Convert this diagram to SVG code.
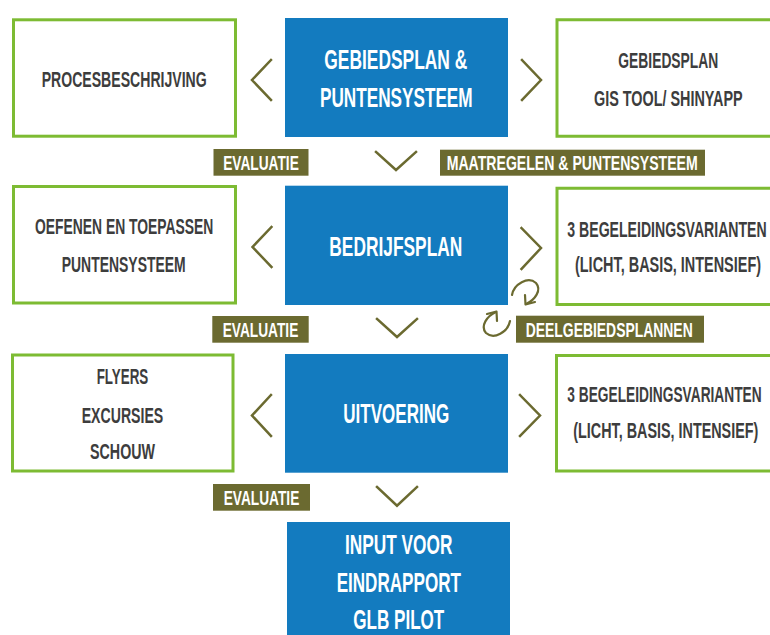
<svg xmlns="http://www.w3.org/2000/svg" width="770" height="635" viewBox="0 0 770 635">
<style>
.box{fill:#ffffff;stroke:#7dbb33;stroke-width:3}
.blue{fill:#137bbf}
.lab{fill:#6b6a30}
.chev{fill:none;stroke:#6b6a30;stroke-width:2.5;stroke-linecap:square}
.curl{fill:none;stroke:#6b6a30;stroke-width:2.2;stroke-linecap:round;stroke-linejoin:round}
text{font-family:"Liberation Sans Narrow","Liberation Sans",Arial,sans-serif;font-weight:bold;text-anchor:middle}
.g{fill:#3d3d3d;font-size:22px}
.w{fill:#ffffff;font-size:28px}
.l{fill:#ffffff;font-size:21px}
</style>
<rect width="770" height="635" fill="#ffffff"/>
<g id="procesbeschrijving"><rect class="box" x="13.5" y="19.8" width="222" height="116.4"/><text class="g" x="124.2" y="87.3" textLength="165" lengthAdjust="spacingAndGlyphs">PROCESBESCHRIJVING</text></g>
<g id="gebiedsplan-puntensysteem"><rect class="blue" x="285" y="18" width="223" height="119"/><text class="w" x="395.8" y="69" textLength="143" lengthAdjust="spacingAndGlyphs">GEBIEDSPLAN &amp;</text><text class="w" x="396.3" y="106.7" textLength="152.7" lengthAdjust="spacingAndGlyphs">PUNTENSYSTEEM</text></g>
<g id="gis-tool"><path class="box" d="M770,19.8 H557 V136.2 H770"/><text class="g" x="668.3" y="67.7" textLength="100" lengthAdjust="spacingAndGlyphs">GEBIEDSPLAN</text><text class="g" x="668.3" y="106" textLength="148.7" lengthAdjust="spacingAndGlyphs">GIS TOOL/ SHINYAPP</text></g>
<g id="oefenen"><rect class="box" x="13.5" y="186.5" width="222" height="116.5"/><text class="g" x="124.2" y="234.3" textLength="178.3" lengthAdjust="spacingAndGlyphs">OEFENEN EN TOEPASSEN</text><text class="g" x="123.7" y="271.7" textLength="124" lengthAdjust="spacingAndGlyphs">PUNTENSYSTEEM</text></g>
<g id="bedrijfsplan"><rect class="blue" x="285" y="185.7" width="223" height="119.3"/><text class="w" x="395.8" y="256" textLength="133" lengthAdjust="spacingAndGlyphs">BEDRIJFSPLAN</text></g>
<g id="begeleiding-1"><path class="box" d="M770,188.2 H557 V304.5 H770"/><text class="g" x="667" y="236.7" textLength="199.4" lengthAdjust="spacingAndGlyphs">3 BEGELEIDINGSVARIANTEN</text><text class="g" x="668" y="271.7" textLength="186" lengthAdjust="spacingAndGlyphs">(LICHT, BASIS, INTENSIEF)</text></g>
<g id="flyers"><rect class="box" x="12.5" y="355" width="220.5" height="116"/><text class="g" x="122.5" y="384.3" textLength="51.6" lengthAdjust="spacingAndGlyphs">FLYERS</text><text class="g" x="122.5" y="422.7" textLength="81.6" lengthAdjust="spacingAndGlyphs">EXCURSIES</text><text class="g" x="122.5" y="459" textLength="65" lengthAdjust="spacingAndGlyphs">SCHOUW</text></g>
<g id="uitvoering"><rect class="blue" x="285" y="354" width="223" height="118.7"/><text class="w" x="396.3" y="423.3" textLength="106" lengthAdjust="spacingAndGlyphs">UITVOERING</text></g>
<g id="begeleiding-2"><path class="box" d="M770,355.5 H556.5 V471 H770"/><text class="g" x="664.5" y="402.3" textLength="194.4" lengthAdjust="spacingAndGlyphs">3 BEGELEIDINGSVARIANTEN</text><text class="g" x="665.8" y="438.3" textLength="185" lengthAdjust="spacingAndGlyphs">(LICHT, BASIS, INTENSIEF)</text></g>
<g id="eindrapport"><rect class="blue" x="287" y="522" width="223" height="113"/><text class="w" x="398.7" y="554.3" textLength="107.3" lengthAdjust="spacingAndGlyphs">INPUT VOOR</text><text class="w" x="398.8" y="592.3" textLength="124.3" lengthAdjust="spacingAndGlyphs">EINDRAPPORT</text><text class="w" x="398.8" y="629.3" textLength="91" lengthAdjust="spacingAndGlyphs">GLB PILOT</text></g>
<g id="connectors">
<polyline class="chev" points="271,60 252,80 271,100"/>
<polyline class="chev" points="522,60 541,80 522,100"/>
<polyline class="chev" points="376,152 396,170 416,152"/>
<polyline class="chev" points="271.5,227 252.5,247 271.5,267"/>
<polyline class="chev" points="521.5,228 541,248 521.5,269"/>
<polyline class="chev" points="377,319 397,337 417,319"/>
<polyline class="chev" points="271,395 252,415.5 271,436"/>
<polyline class="chev" points="520,395 540,415.5 520,436"/>
<polyline class="chev" points="377,487 397,505.7 417,487"/>
<g id="curl-1"><path class="curl" d="M512,295 C514,284 528,276 536,283 C542,290 535,300 526,304"/><polyline class="curl" points="525,295 525.5,304.5 535,302"/></g>
<g id="curl-2" transform="rotate(180 511 308)"><path class="curl" d="M512,295 C514,284 528,276 536,283 C542,290 535,300 526,304"/><polyline class="curl" points="525,295 525.5,304.5 535,302"/></g>
</g>
<g id="label-evaluatie-1"><rect class="lab" x="213.5" y="149" width="95" height="26.7"/><text class="l" x="261" y="170.3" textLength="75.6" lengthAdjust="spacingAndGlyphs">EVALUATIE</text></g>
<g id="label-maatregelen"><rect class="lab" x="440" y="149.7" width="265" height="26"/><text class="l" x="572.2" y="170" textLength="251" lengthAdjust="spacingAndGlyphs">MAATREGELEN &amp; PUNTENSYSTEEM</text></g>
<g id="label-evaluatie-2"><rect class="lab" x="212.3" y="316" width="96.4" height="26.7"/><text class="l" x="260.5" y="337.3" textLength="75.6" lengthAdjust="spacingAndGlyphs">EVALUATIE</text></g>
<g id="label-deelgebiedsplannen"><rect class="lab" x="516" y="315.7" width="188" height="27"/><text class="l" x="609.2" y="337.3" textLength="167" lengthAdjust="spacingAndGlyphs">DEELGEBIEDSPLANNEN</text></g>
<g id="label-evaluatie-3"><rect class="lab" x="213" y="484" width="97" height="26.7"/><text class="l" x="261.5" y="505.3" textLength="75.6" lengthAdjust="spacingAndGlyphs">EVALUATIE</text></g>
</svg>
